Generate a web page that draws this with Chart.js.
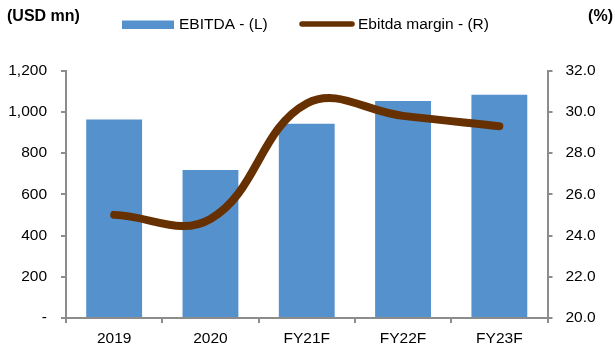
<!DOCTYPE html>
<html>
<head>
<meta charset="utf-8">
<script src="https://cdn.jsdelivr.net/npm/chart.js@4.4.1/dist/chart.umd.min.js"></script>
<style>
  html, body { margin: 0; padding: 0; background: #ffffff; }
  #wrap { width: 615px; height: 349px; position: relative; }
</style>
</head>
<body>
<div id="wrap"><canvas id="chart" width="615" height="349"></canvas></div>
<script>
// Categories and series
const categories = ['2019', '2020', 'FY21F', 'FY22F', 'FY23F'];
const ebitda = [963, 717, 942, 1052, 1082];          // USD mn, left axis
const ebitdaMargin = [25.0, 24.8, 30.4, 29.8, 29.3]; // %, right axis

// Axis tick settings
const leftTicks = { min: 0, max: 1200, step: 200 };
const rightTicks = { min: 20, max: 32, step: 2 };

// Header texts
const leftUnit = '(USD mn)';
const rightUnit = '(%)';
const barName = 'EBITDA - (L)';
const lineName = 'Ebitda margin - (R)';

const FONT = '"Liberation Sans", Arial, Helvetica, sans-serif';
const BLUE = '#5591cd';
const BROWN = '#663000';
const AXIS = '#8c8c8c';

// Draws the unit captions and the legend row across the top
const headerPlugin = {
  id: 'header',
  afterDraw(chart) {
    const ctx = chart.ctx;
    const byType = t => chart.data.datasets.find(d => d.type === t);
    ctx.save();
    ctx.fillStyle = '#000';
    ctx.textBaseline = 'middle';
    ctx.font = 'bold 16px ' + FONT;
    ctx.textAlign = 'left';
    ctx.fillText(leftUnit, 7, 17);
    ctx.textAlign = 'right';
    ctx.fillText(rightUnit, 613, 17);

    ctx.font = '15.5px ' + FONT;
    ctx.textAlign = 'left';
    // bar series swatch
    ctx.fillStyle = BLUE;
    ctx.fillRect(122, 20.5, 52, 8.5);
    ctx.fillStyle = '#000';
    ctx.fillText(byType('bar').label, 179, 25);
    // line series swatch
    ctx.strokeStyle = BROWN;
    ctx.lineWidth = 5.5;
    ctx.lineCap = 'round';
    ctx.beginPath();
    ctx.moveTo(302, 24);
    ctx.lineTo(352, 24);
    ctx.stroke();
    ctx.fillText(byType('line').label, 358, 25);
    ctx.restore();
  }
};

const tickFont = { family: FONT, size: 15.5 };

new Chart(document.getElementById('chart'), {
  data: {
    labels: categories,
    datasets: [
      {
        type: 'line',
        label: lineName,
        data: ebitdaMargin,
        yAxisID: 'yR',
        borderColor: BROWN,
        backgroundColor: BROWN,
        borderWidth: 8,
        borderCapStyle: 'round',
        borderJoinStyle: 'round',
        tension: 0.4,
        pointRadius: 0,
        fill: false,
        order: 0
      },
      {
        type: 'bar',
        label: barName,
        data: ebitda,
        yAxisID: 'yL',
        backgroundColor: BLUE,
        borderWidth: 0,
        categoryPercentage: 1.0,
        barPercentage: 0.58,
        order: 1
      }
    ]
  },
  options: {
    responsive: false,
    animation: false,
    devicePixelRatio: 1,
    layout: { padding: { top: 70.5, left: 0, right: 0, bottom: 0 } },
    plugins: {
      legend: { display: false },
      tooltip: { enabled: false }
    },
    scales: {
      x: {
        offset: true,
        grid: { offset: true, drawOnChartArea: false, drawTicks: true, tickLength: 5, color: AXIS, lineWidth: 2 },
        border: { color: AXIS, width: 2 },
        ticks: { font: tickFont, color: '#000', padding: 6, maxRotation: 0 },
        afterFit(scale) { scale.height = 31; }
      },
      yL: {
        position: 'left',
        min: leftTicks.min,
        max: leftTicks.max,
        grid: { drawOnChartArea: false, drawTicks: true, tickLength: 5, color: AXIS, lineWidth: 2 },
        border: { color: AXIS, width: 2 },
        ticks: {
          stepSize: leftTicks.step,
          font: tickFont,
          color: '#000',
          padding: 14,
          callback: v => v === 0 ? '-' : v.toLocaleString('en-US')
        },
        afterFit(scale) { scale.width = 66; }
      },
      yR: {
        position: 'right',
        min: rightTicks.min,
        max: rightTicks.max,
        grid: { drawOnChartArea: false, drawTicks: true, tickLength: 5, color: AXIS, lineWidth: 2 },
        border: { color: AXIS, width: 2 },
        ticks: {
          stepSize: rightTicks.step,
          font: tickFont,
          color: '#000',
          padding: 13,
          callback: v => v.toFixed(1)
        },
        afterFit(scale) { scale.width = 67.5; }
      }
    }
  },
  plugins: [headerPlugin]
});
</script>
</body>
</html>
